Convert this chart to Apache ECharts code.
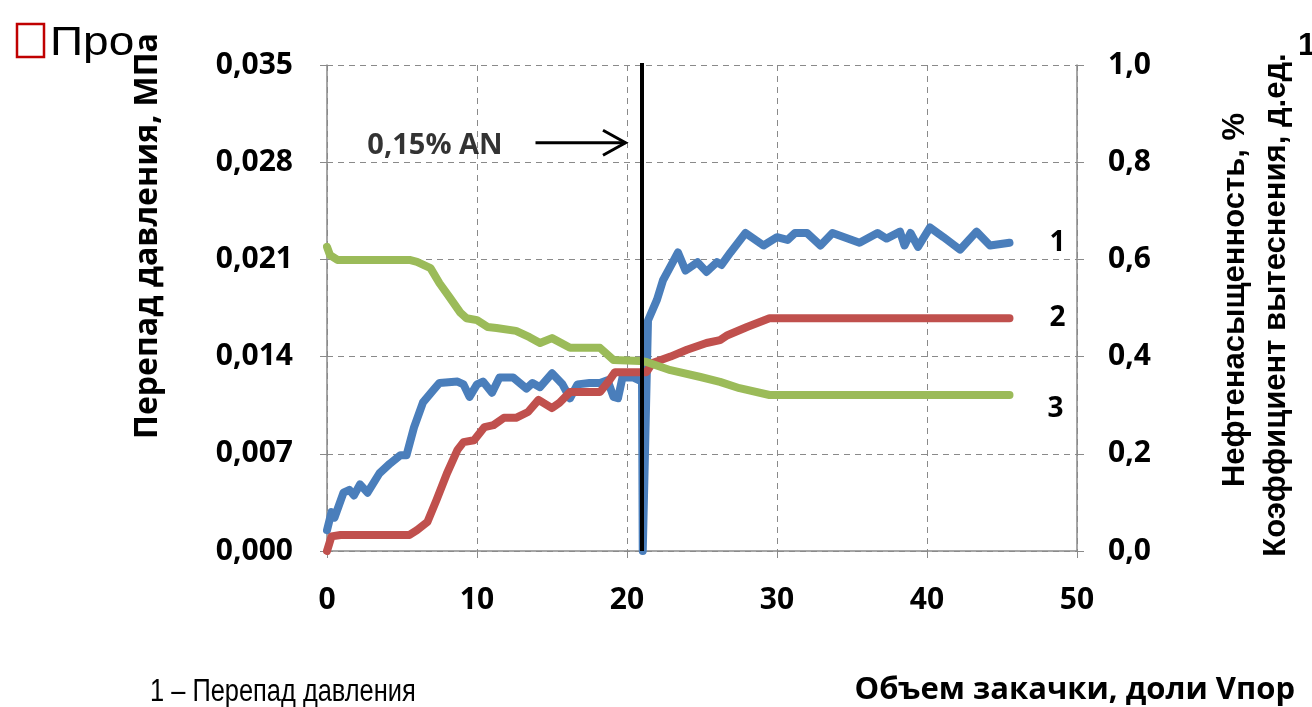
<!DOCTYPE html>
<html>
<head>
<meta charset="utf-8">
<script src="https://cdn.jsdelivr.net/npm/echarts@6/dist/echarts.min.js"></script>
<style>
  html, body { margin: 0; padding: 0; background: #fff; }
  #main { width: 1312px; height: 707px; }
</style>
</head>
<body>
<div id="main"></div>
<script>
// x - объем закачки, доли Vпор
var xTicks = [0, 10, 20, 30, 40, 50];
var leftTicks = [0, 0.007, 0.014, 0.021, 0.028, 0.035];
var rightTicks = [0, 0.2, 0.4, 0.6, 0.8, 1.0];

// 1 - перепад давления, МПа (левая ось)
var pressure = [
  [0, 0.0015], [0.3, 0.0028], [0.5, 0.0024], [1.1, 0.0042], [1.5, 0.0044], [1.8, 0.0040],
  [2.2, 0.0048], [2.7, 0.0042], [3.5, 0.0056], [4.2, 0.0063], [4.9, 0.0069], [5.3, 0.0069],
  [5.8, 0.0089], [6.4, 0.0107], [7.1, 0.0116], [7.5, 0.0121], [8.7, 0.0122], [9.1, 0.0120],
  [9.5, 0.0111], [10.0, 0.0120], [10.4, 0.0122], [11.0, 0.0114], [11.5, 0.0125], [12.4, 0.0125],
  [13.3, 0.0117], [13.7, 0.0121], [14.2, 0.0118], [15.0, 0.0128], [15.7, 0.0120], [16.2, 0.0110],
  [16.7, 0.0120], [17.5, 0.0121], [18.2, 0.0121], [18.7, 0.0123], [19.1, 0.0111], [19.4, 0.0110],
  [19.7, 0.0125], [20.4, 0.0125], [21.0, 0.0122], [21.05, 0.0], [21.15, 0.0], [21.4, 0.0166],
  [22.0, 0.0181], [22.4, 0.0195], [23.0, 0.0207], [23.4, 0.0215], [23.9, 0.0202], [24.7, 0.0208],
  [25.3, 0.0201], [26.0, 0.0208], [26.3, 0.0206], [26.9, 0.0215], [27.9, 0.0229], [29.1, 0.0220],
  [30.0, 0.0226], [30.7, 0.0224], [31.2, 0.0229], [32.0, 0.0229], [32.9, 0.0220], [33.7, 0.0229],
  [35.5, 0.0222], [36.7, 0.0229], [37.3, 0.0225], [38.2, 0.0230], [38.5, 0.0220], [38.9, 0.0229],
  [39.4, 0.0219], [40.2, 0.0233], [41.1, 0.0226], [42.2, 0.0217], [43.3, 0.0230], [44.2, 0.0220],
  [45.5, 0.0222]
];

// 2 - коэффициент вытеснения, д.ед. (правая ось)
var displacement = [
  [0, 0.0], [0.3, 0.03], [0.9, 0.033], [5.5, 0.033], [6.0, 0.043], [6.7, 0.06], [7.3, 0.105],
  [8.0, 0.16], [8.7, 0.208], [9.1, 0.224], [9.8, 0.228], [10.5, 0.255], [11.1, 0.259],
  [11.8, 0.274], [12.6, 0.274], [13.4, 0.286], [14.1, 0.311], [15.0, 0.294], [15.5, 0.305],
  [16.2, 0.327], [18.2, 0.327], [18.7, 0.346], [19.2, 0.368], [21.3, 0.368], [21.7, 0.387],
  [22.9, 0.40], [24.0, 0.414], [25.3, 0.428], [26.2, 0.434], [26.7, 0.444], [28.0, 0.461],
  [29.5, 0.479], [45.5, 0.479]
];

// 3 - нефтенасыщенность (правая ось)
var saturation = [
  [0, 0.626], [0.2, 0.609], [0.7, 0.599], [5.5, 0.599], [6.0, 0.595], [6.9, 0.582], [7.5, 0.551],
  [8.2, 0.521], [8.9, 0.49], [9.3, 0.479], [10.0, 0.475], [10.7, 0.461], [11.3, 0.459],
  [12.6, 0.453], [13.5, 0.44], [14.2, 0.428], [15.0, 0.438], [16.2, 0.418], [18.2, 0.418],
  [19.1, 0.393], [20.9, 0.391], [21.3, 0.389], [22.9, 0.372], [24.9, 0.358], [26.2, 0.348],
  [27.5, 0.335], [29.5, 0.321], [45.5, 0.321]
];

// момент ввода 0,15% AN
var injectLine = [[21, 0], [21, 0.0352]];
var arrowShaft = [[13.9, 0.0294], [19.9, 0.0294]];
var arrowHead = [[18.4, 0.0303], [19.9, 0.0294], [18.4, 0.0285]];
var noteLabel = [[7.2, 0.0292]];

var lblFont = '"Open Sans"';
var gray = '#8a8a8a';

window.onload = function () {
  var myChart = echarts.init(document.getElementById('main'));

  var option = {
    backgroundColor: '#fff',
    animation: false,
    grid: { left: 327, right: 235, top: 65, bottom: 156, containLabel: false },
    xAxis: {
      type: 'value', min: xTicks[0], max: xTicks[xTicks.length - 1], interval: 10,
      axisLine: { lineStyle: { color: gray, width: 1.5 } },
      axisTick: { show: true, length: 7, lineStyle: { color: gray } },
      axisLabel: { margin: 34, color: '#000', fontFamily: lblFont, fontWeight: 'bold', fontSize: 30 },
      splitLine: { show: true, lineStyle: { color: gray, type: [6, 5], width: 1 } }
    },
    yAxis: [{
      type: 'value', min: 0, max: 0.035, interval: 0.007, position: 'left',
      axisLine: { show: true, lineStyle: { color: gray, width: 1.5 } },
      axisTick: { show: true, length: 7, lineStyle: { color: gray } },
      axisLabel: {
        margin: 34, color: '#000', fontFamily: lblFont, fontWeight: 'bold', fontSize: 30,
        formatter: function (v) { return v.toFixed(3).replace('.', ','); }
      },
      splitLine: { show: true, lineStyle: { color: gray, type: [6, 5], width: 1 } }
    }, {
      type: 'value', min: 0, max: 1, interval: 0.2, position: 'right',
      axisLine: { show: true, lineStyle: { color: gray, width: 1.5 } },
      axisTick: { show: true, length: 7, lineStyle: { color: gray } },
      axisLabel: {
        margin: 31, color: '#000', fontFamily: lblFont, fontWeight: 'bold', fontSize: 30,
        formatter: function (v) { return v.toFixed(1).replace('.', ','); }
      },
      splitLine: { show: false }
    }],
    series: [{
      name: '1', type: 'line', yAxisIndex: 0, data: pressure, showSymbol: false,
      lineStyle: { color: '#4a7ebb', width: 8, cap: 'round', join: 'round' },
      endLabel: { show: true, formatter: '1', distance: 40, color: '#000', fontFamily: lblFont, fontWeight: 'bold', fontSize: 28 }
    }, {
      name: '2', type: 'line', yAxisIndex: 1, data: displacement, showSymbol: false,
      lineStyle: { color: '#c0504d', width: 8, cap: 'round', join: 'round' },
      endLabel: { show: true, formatter: '2', distance: 40, color: '#000', fontFamily: lblFont, fontWeight: 'bold', fontSize: 28 }
    }, {
      name: '3', type: 'line', yAxisIndex: 1, data: saturation, showSymbol: false,
      lineStyle: { color: '#9bbb59', width: 8, cap: 'round', join: 'round' },
      endLabel: { show: true, formatter: '3', distance: 38, offset: [0, 14], color: '#000', fontFamily: lblFont, fontWeight: 'bold', fontSize: 28 }
    }, {
      name: 'inject', type: 'line', yAxisIndex: 0, data: injectLine, showSymbol: false,
      lineStyle: { color: '#000', width: 4 }, z: 5
    }, {
      name: 'shaft', type: 'line', yAxisIndex: 0, data: arrowShaft, showSymbol: false,
      lineStyle: { color: '#000', width: 3 }, z: 5
    }, {
      name: 'head', type: 'line', yAxisIndex: 0, data: arrowHead, showSymbol: false,
      lineStyle: { color: '#000', width: 3, join: 'miter' }, z: 5
    }, {
      name: 'note', type: 'scatter', yAxisIndex: 0, data: noteLabel, symbolSize: 1,
      itemStyle: { color: 'rgba(0,0,0,0)' },
      label: { show: true, position: 'inside', formatter: '0,15% AN', color: '#000', fontFamily: lblFont, fontWeight: 'bold', fontSize: 29 }
    }],
    graphic: [
      // фрагменты слайда под картинкой
      { type: 'rect', z: 1, shape: { x: 17, y: 24, width: 27, height: 33 }, style: { fill: 'none', stroke: '#c00000', lineWidth: 2.5 } },
      { type: 'text', z: 1, x: 50, y: 44, scaleX: 1.15, style: { text: 'Про', font: '40px "Liberation Sans"', fill: '#000', verticalAlign: 'middle' } },
      { type: 'rect', z: 2, shape: { x: 147, y: 10, width: 60, height: 60 }, style: { fill: '#fff' } },
      { type: 'text', z: 1, x: 1298, y: 46, style: { text: '1', font: 'bold 32px "Liberation Sans"', fill: '#000', verticalAlign: 'middle' } },
      { type: 'text', z: 1, x: 150, y: 708, scaleX: 0.82, style: { text: '1 – Перепад давления', font: '31px "Liberation Sans"', fill: '#000', verticalAlign: 'bottom' } },
      // подписи осей
      { type: 'text', z: 10, x: 148, y: 236, rotation: Math.PI / 2,
        style: { text: 'Перепад давления, МПа', font: 'bold 32px "Open Sans"', fill: '#000', align: 'center', verticalAlign: 'middle' } },
      { type: 'text', z: 10, x: 1235, y: 300, rotation: Math.PI / 2,
        style: { text: 'Нефтенасыщенность, %', font: 'bold 31px "Liberation Sans"', fill: '#000', align: 'center', verticalAlign: 'middle' } },
      { type: 'text', z: 10, x: 1276, y: 305, rotation: Math.PI / 2,
        style: { text: 'Коэффициент вытеснения, д.ед.', font: 'bold 31px "Liberation Sans"', fill: '#000', align: 'center', verticalAlign: 'middle' } },
      { type: 'text', z: 10, x: 1295, y: 690,
        style: { text: 'Объем закачки, доли Vпор', font: 'bold 31px "Open Sans"', fill: '#000', align: 'right', verticalAlign: 'middle' } }
    ]
  };

  myChart.setOption(option);
};
</script>
</body>
</html>
